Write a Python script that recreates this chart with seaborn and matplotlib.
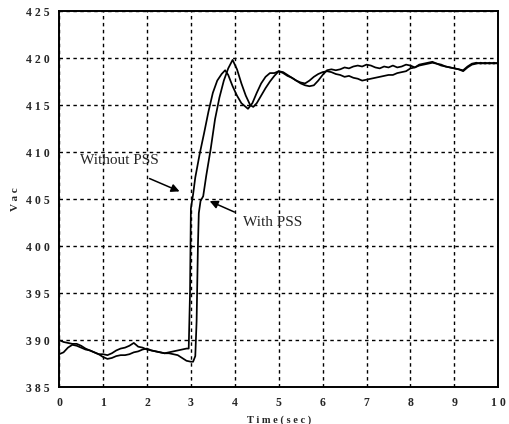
import matplotlib
matplotlib.use("Agg")
import matplotlib.pyplot as plt
import matplotlib.ticker as mticker
import numpy as np
import pandas as pd
import seaborn as sns

# Terminal voltage Vac after the step disturbance at t = 3 s
t_without = [0.0, 0.1, 0.2, 0.3, 0.4, 0.5, 0.6, 0.7, 0.8, 0.9,
             1.0, 1.1, 1.2, 1.3, 1.4, 1.5, 1.6, 1.7, 1.8, 1.9,
             2.0, 2.1, 2.2, 2.3, 2.4, 2.5, 2.6, 2.7, 2.8, 2.9, 2.95,
             2.98, 3.0, 3.05, 3.1, 3.2, 3.3, 3.4, 3.5, 3.6, 3.7, 3.78,
             3.85, 3.95, 4.05, 4.15, 4.3, 4.4, 4.5, 4.6, 4.7, 4.8, 4.9,
             5.0, 5.1, 5.2, 5.3, 5.4, 5.5, 5.6, 5.7, 5.8, 5.9,
             6.0, 6.1, 6.2, 6.3, 6.4, 6.5, 6.6, 6.7, 6.8, 6.9,
             7.0, 7.1, 7.2, 7.3, 7.4, 7.5, 7.6, 7.7, 7.8, 7.9,
             8.0, 8.1, 8.2, 8.3, 8.4, 8.5, 8.6, 8.7, 8.8, 8.9,
             9.0, 9.1, 9.2, 9.3, 9.4, 9.5, 9.6, 9.7, 9.8, 9.9, 10.0]
v_without = [388.5, 388.7, 389.2, 389.5, 389.4, 389.2, 389.0, 388.9, 388.7, 388.5,
             388.5, 388.4, 388.6, 388.9, 389.1, 389.2, 389.4, 389.7, 389.3, 389.2,
             389.0, 388.9, 388.8, 388.7, 388.6, 388.7, 388.8, 388.9, 389.0, 389.1, 389.1,
             395.0, 404.0, 405.5, 407.3, 409.8, 412.0, 414.3, 416.3, 417.6, 418.3, 418.7,
             418.2, 417.0, 416.0, 415.2, 414.6, 415.2, 416.3, 417.3, 418.0, 418.4, 418.4,
             418.6, 418.4, 418.1, 417.9, 417.6, 417.4, 417.3, 417.6, 418.0, 418.3,
             418.5, 418.6, 418.5, 418.3, 418.2, 418.0, 418.1, 417.9, 417.8, 417.6,
             417.7, 417.8, 417.9, 418.0, 418.1, 418.2, 418.2, 418.4, 418.5, 418.6,
             418.9, 419.0, 419.2, 419.3, 419.4, 419.5, 419.4, 419.2, 419.1, 419.0,
             418.9, 418.8, 418.6, 419.0, 419.3, 419.4, 419.5, 419.4, 419.5, 419.4, 419.5]

t_with = [0.0, 0.1, 0.2, 0.3, 0.4, 0.5, 0.6, 0.7, 0.8, 0.9,
          1.0, 1.1, 1.2, 1.3, 1.4, 1.5, 1.6, 1.7, 1.8, 1.9,
          2.0, 2.1, 2.2, 2.3, 2.4, 2.5, 2.6, 2.7, 2.8, 2.9,
          3.0, 3.05, 3.1, 3.13, 3.16, 3.18, 3.22, 3.28, 3.35, 3.45,
          3.55, 3.65, 3.75, 3.85, 3.95, 4.05, 4.15, 4.25, 4.35, 4.42,
          4.5, 4.6, 4.7, 4.8, 4.9, 5.0, 5.1, 5.2, 5.3, 5.4,
          5.5, 5.6, 5.7, 5.8, 5.9, 6.0, 6.1, 6.2, 6.3, 6.4,
          6.5, 6.6, 6.7, 6.8, 6.9, 7.0, 7.1, 7.2, 7.3, 7.4,
          7.5, 7.6, 7.7, 7.8, 7.9, 8.0, 8.1, 8.2, 8.3, 8.4,
          8.5, 8.6, 8.7, 8.8, 8.9, 9.0, 9.1, 9.2, 9.3, 9.4,
          9.5, 9.6, 9.7, 9.8, 9.9, 10.0]
v_with = [390.0, 389.8, 389.7, 389.6, 389.6, 389.4, 389.1, 388.9, 388.7, 388.5,
          388.2, 388.0, 388.1, 388.3, 388.4, 388.4, 388.5, 388.7, 388.8, 389.0,
          389.1, 388.9, 388.8, 388.7, 388.6, 388.6, 388.5, 388.4, 388.1, 387.8,
          387.7, 387.7, 388.3, 392.0, 400.0, 403.5, 404.8, 405.3, 407.5, 410.3,
          413.5, 415.8, 417.6, 418.9, 419.8, 418.8, 417.3, 416.0, 415.0, 414.8,
          415.2, 416.0, 416.8, 417.5, 418.1, 418.6, 418.5, 418.2, 417.9, 417.6,
          417.3, 417.1, 417.0, 417.1, 417.6, 418.2, 418.7, 418.8, 418.7, 418.8,
          419.0, 418.9, 419.1, 419.2, 419.1, 419.3, 419.2, 419.0, 418.9, 419.1,
          419.0, 419.2, 419.0, 419.1, 419.3, 419.2, 419.0, 419.3, 419.4, 419.5,
          419.6, 419.4, 419.3, 419.1, 419.0, 418.9, 418.8, 418.7, 419.1, 419.4,
          419.5, 419.4, 419.5, 419.4, 419.5, 419.4]

x_ticks = list(range(0, 11))
y_ticks = [385, 390, 395, 400, 405, 410, 415, 420, 425]

df = pd.concat([
    pd.DataFrame({"t": t_without, "v": v_without, "case": "Without PSS"}),
    pd.DataFrame({"t": t_with, "v": v_with, "case": "With PSS"}),
])

sns.set_style("white")
plt.rcParams["font.family"] = ["Liberation Serif", "DejaVu Serif"]

fig = plt.figure(figsize=(5.10, 4.24), dpi=100)
ax = fig.add_axes([0.116, 0.087, 0.861, 0.887])

sns.lineplot(data=df, x="t", y="v", units="case", estimator=None,
             color="black", linewidth=1.25, ax=ax, legend=False, sort=False)

ax.set_xlim(0, 10)
ax.set_ylim(385, 425)
ax.set_xticks(x_ticks)
ax.set_yticks(y_ticks)
spaced = mticker.FuncFormatter(lambda val, pos: " ".join(str(int(round(val)))))
ax.xaxis.set_major_formatter(spaced)
ax.yaxis.set_major_formatter(spaced)
ax.tick_params(length=0, labelsize=8.5, pad=7)
for lab in ax.get_xticklabels() + ax.get_yticklabels():
    lab.set_fontweight("bold")

ax.grid(True, color="black", linestyle=(0, (2.5, 2.5)), linewidth=1.0)
for s in ax.spines.values():
    s.set_color("black")
    s.set_linewidth(1.4)

ax.set_xlabel("T i m e ( s e c )", fontsize=7.5, fontweight="bold", labelpad=5)
ax.set_ylabel("V a c", fontsize=8, fontweight="bold", labelpad=4)

ax.annotate("", xy=(2.80, 405.7), xytext=(2.0, 407.3),
            arrowprops=dict(arrowstyle="-|>", color="black", lw=1.1,
                            mutation_scale=12))
ax.annotate("", xy=(3.37, 404.9), xytext=(4.05, 403.5),
            arrowprops=dict(arrowstyle="-|>", color="black", lw=1.1,
                            mutation_scale=12))
ax.text(0.48, 409.15, "Without PSS", fontsize=11, va="center", ha="left")
ax.text(4.19, 402.55, "With PSS", fontsize=11, va="center", ha="left")

fig.savefig("out.png", dpi=100)
